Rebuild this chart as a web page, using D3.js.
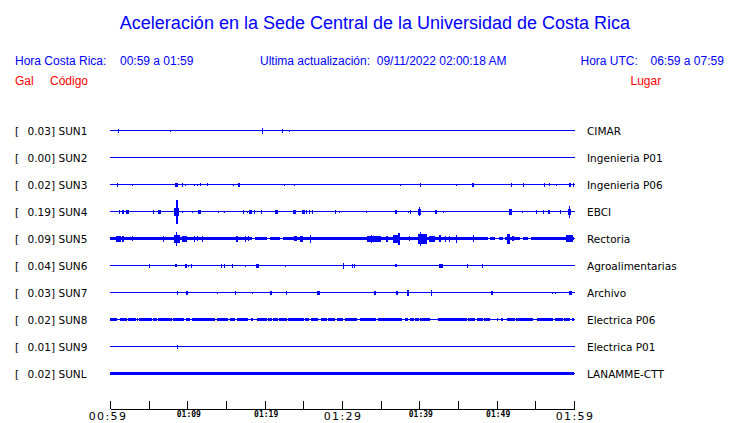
<!DOCTYPE html>
<html>
<head>
<meta charset="utf-8">
<script src="https://cdn.jsdelivr.net/npm/d3@7"></script>
<style>
  html, body { margin: 0; padding: 0; background: #fff; }
  svg { display: block; }
</style>
</head>
<body>
<svg id="chart" width="740" height="423"></svg>
<script>
// ---------------- data ----------------
const stations = ["SUN1","SUN2","SUN3","SUN4","SUN5","SUN6","SUN7","SUN8","SUN9","SUNL"];
const peaks = ["0.03","0.00","0.02","0.19","0.09","0.04","0.03","0.02","0.01","0.02"];
const places = ["CIMAR","Ingenieria P01","Ingenieria P06","EBCI","Rectoria","Agroalimentarias","Archivo","Electrica P06","Electrica P01","LANAMME-CTT"];
// background noise half-amplitude of each trace (relative units)
const baseNoise = [0.5,0.5,0.5,0.5,1.5,0.5,0.5,1.5,0.5,1.5];

// events: [start minute, end minute, half amplitude]  (minutes after 00:59)
const sun1Events = [[1.07,1.2,2],[7.8,7.93,1],[19.7,19.83,3],[22.3,22.43,2],[23.2,23.33,1]];
const sun2Events = [];
const sun3Events = [[0.86,0.99,2],[2.9,3.03,1],[8.4,8.8,2],[9.3,9.43,2],[9.7,9.83,1],[10.9,11.03,1],[11.3,11.43,1],[11.7,11.83,1.5],[12.6,12.73,1.5],[15.9,16.03,1],[16.5,16.63,2],[16.7,16.83,2],[22.5,22.63,1],[23.8,23.93,1],[37.5,37.63,1],[40.1,40.23,2],[44.7,44.83,1],[46.8,46.93,2],[47.0,47.13,2],[51.8,51.93,2],[53.4,53.53,2],[56.1,56.23,2],[56.8,56.93,1.5],[57.7,57.83,1],[59.3,59.6,2],[59.85,59.98,2]];
const sun4Events = [[1.2,1.33,2],[1.5,1.75,2],[2.1,2.4,2],[5.5,5.63,2],[6.2,6.33,2],[6.4,6.6,2],[8.3,8.95,4],[8.55,8.75,12],[9.35,9.48,1],[10.6,10.73,1],[11.4,11.75,2],[14.0,14.13,1],[14.8,14.93,1],[17.2,17.33,2],[17.7,17.83,1],[18.0,18.3,2],[18.6,18.73,2],[19.5,19.63,2],[21.4,21.7,2],[23.7,24.0,2],[24.8,25.2,2],[25.4,25.53,2],[25.7,25.83,2],[26.1,26.23,2],[29.1,29.23,2],[29.6,29.73,1],[33.1,33.23,1],[36.8,37.1,2],[38.5,38.63,1],[38.8,38.93,2],[39.8,40.2,3],[39.95,40.1,4.5],[42.0,42.13,2],[42.2,42.33,2],[43.0,43.13,1],[51.6,52.0,3],[53.3,53.43,1],[55.1,55.23,2],[56.0,56.13,2],[56.7,56.95,2],[58.2,58.33,2],[59.2,59.6,3],[59.35,59.5,6]];
const sun5Events = [[0.8,1.45,3],[1.6,1.8,3],[2.9,3.03,2.5],[6.8,6.93,3],[8.3,9.1,4],[8.55,8.7,7],[9.3,9.9,3],[10.8,10.93,3],[11.2,11.33,2.5],[11.9,12.03,3],[16.3,16.55,3],[17.4,17.53,3],[17.8,17.93,2.5],[23.8,24.2,2.5],[24.6,24.9,3],[25.8,26.0,4],[33.2,35.1,3],[33.7,33.85,4],[35.7,36.0,3],[36.6,37.5,4],[37.3,37.45,6],[38.7,38.83,2.5],[39.8,41.0,5],[40.1,40.25,7],[41.2,42.0,3],[42.6,42.8,3.5],[43.3,43.43,3],[43.9,44.03,3],[44.7,44.83,4],[46.9,47.03,3.5],[51.3,51.7,5],[52.0,52.2,2.5],[59.0,59.9,3.5]];
const sun6Events = [[5.1,5.23,2],[8.4,8.7,1.5],[9.7,10.0,2],[10.1,10.23,1],[10.5,10.63,2],[14.3,14.43,2],[14.8,14.93,2],[15.8,15.93,2],[17.4,17.53,1],[18.9,19.25,2],[22.6,22.73,1],[30.15,30.28,3],[31.3,31.43,2],[31.6,31.73,2],[36.8,37.05,1.5],[42.6,43.0,2],[46.1,46.23,2],[48.1,48.23,2]];
const sun7Events = [[8.6,8.73,2],[9.8,10.1,2],[13.9,14.03,1],[16.1,16.35,2],[18.3,18.43,1],[20.7,20.95,2],[22.7,22.95,2],[26.8,27.1,2],[34.2,34.45,2],[37.0,37.25,2],[38.4,38.65,3],[41.55,41.68,3],[49.3,49.55,2],[57.2,57.33,1],[57.6,57.73,1],[59.35,59.8,2]];
const sun8Events = [];
const sun9Events = [[8.6,8.73,2]];
const sunLEvents = [];
const allEvents = [sun1Events,sun2Events,sun3Events,sun4Events,sun5Events,sun6Events,sun7Events,sun8Events,sun9Events,sunLEvents];

// quiet stretches where the noise band drops to the bare line: [start, end] minutes
const sun5Quiet = [[18.3,18.75],[20.3,20.7],[22.0,22.4],[48.9,49.2],[49.8,50.3],[50.8,51.1],[53.0,53.4],[54.1,54.4]];
const sun8Quiet = [[0.87,1.29],[2.16,2.37],[3.32,3.45],[3.66,3.79],[5.39,5.6],[6.04,6.25],[7.98,8.19],[9.61,9.79],[10.34,10.64],[13.58,13.8],[15.3,15.52],[16.16,16.38],[17.88,18.19],[18.53,18.97],[20.26,20.47],[20.91,21.12],[21.68,21.85],[22.85,23.06],[25.09,25.22],[25.73,25.99],[26.94,27.29],[28.02,28.23],[29.1,29.31],[30.17,30.39],[31.9,32.33],[34.4,34.66],[37.72,38.15],[38.59,38.79],[39.31,39.48],[39.96,40.09],[41.38,42.45],[46.13,46.34],[47.2,47.42],[48.2,48.36],[49.14,50.0],[50.21,50.56],[50.86,51.3],[52.37,52.5],[54.74,55.22],[57.33,57.55],[58.54,58.71],[59.49,59.7]];
const allQuiet = [[],[],[],[],sun5Quiet,[],[],sun8Quiet,[],[]];

const tickMinutes = [0,5,10,15,20,25,30,35,40,45,50,55,60];
const bigLabelMinutes = [0,30,60];
const bigLabels = ["00:59","01:29","01:59"];
const smallLabelMinutes = [10,20,40,50];
const smallLabels = ["01:09","01:19","01:39","01:49"];

const title = "Aceleración en la Sede Central de la Universidad de Costa Rica";
const horaCR = "00:59 a 01:59";
const update = "Ultima actualización:  09/11/2022 02:00:18 AM";
const horaUTC = "06:59 a 07:59";

// ---------------- drawing ----------------
const svg = d3.select("#chart");
const BLUE = "#0000ff", RED = "#ff0000";
const SANS = "'Liberation Sans', Arial, sans-serif";
const DJ = "'DejaVu Sans', sans-serif";

const x = d3.scaleLinear().domain([0,60]).range([110,574]);
const y = d3.scalePoint().domain(stations).range([130.5,373.5]);
const amp = d3.scaleLinear().domain([0,12]).range([0,12]);

// header
svg.append("text").attr("x",375).attr("y",29).attr("text-anchor","middle")
  .attr("font-family",SANS).attr("font-size",18).attr("fill",BLUE).text(title);
const hdr = [[15,"Hora Costa Rica:"],[120,horaCR],[260,update],[580.5,"Hora UTC:"],[650.5,horaUTC]];
svg.selectAll("text.hdr").data(hdr).join("text").attr("class","hdr")
  .attr("x",d=>d[0]).attr("y",65).attr("font-family",SANS).attr("font-size",12)
  .attr("fill",BLUE).style("white-space","pre").text(d=>d[1]);
const hdr2 = [[15,"Gal"],[50,"Código"],[630.5,"Lugar"]];
svg.selectAll("text.hdr2").data(hdr2).join("text").attr("class","hdr2")
  .attr("x",d=>d[0]).attr("y",85).attr("font-family",SANS).attr("font-size",12)
  .attr("fill",RED).text(d=>d[1]);

// traces
const traces = svg.append("g").attr("shape-rendering","crispEdges");
stations.forEach((s,i)=>{
  const c = y(s);
  const g = traces.append("g");
  g.append("rect").attr("x",x(0)).attr("width",x(60)-x(0)+1)
    .attr("y",c-0.5).attr("height",1).attr("fill",BLUE);
  if (baseNoise[i] > 0.5) {
    const q = allQuiet[i];
    const segs = [];
    let start = 0;
    q.forEach(([a,b])=>{ segs.push([start,a]); start = b; });
    segs.push([start,60]);
    g.selectAll("rect.band").data(segs).join("rect").attr("class","band")
      .attr("x",d=>x(d[0])).attr("width",d=>Math.max(1,x(d[1])-x(d[0])))
      .attr("y",c-amp(baseNoise[i])).attr("height",2*amp(baseNoise[i]))
      .attr("fill",BLUE);
  }
  g.selectAll("rect.ev").data(allEvents[i]).join("rect").attr("class","ev")
    .attr("x",d=>x(d[0])).attr("width",d=>Math.max(1,x(d[1])-x(d[0])))
    .attr("y",d=>c-amp(d[2])).attr("height",d=>2*amp(d[2]))
    .attr("fill",BLUE);
  svg.append("text").attr("x",15).attr("y",c+4).attr("font-family",DJ).attr("font-size",10.5).text("[");
  svg.append("text").attr("x",55).attr("y",c+4).attr("text-anchor","end").attr("font-family",DJ).attr("font-size",10.5).text(peaks[i]+"]");
  svg.append("text").attr("x",58.5).attr("y",c+4).attr("font-family",DJ).attr("font-size",10.5).text(s);
  svg.append("text").attr("x",587).attr("y",c+4).attr("font-family",DJ).attr("font-size",10.5).text(places[i]);
});

// time axis
const axis = d3.axisBottom(x).tickValues(tickMinutes).tickSize(-8).tickSizeOuter(0).tickFormat("");
const ax = svg.append("g").attr("transform","translate(0,409)").call(axis);
ax.select(".domain").attr("stroke","#000").attr("shape-rendering","crispEdges");
ax.selectAll(".tick line").attr("stroke","#000").attr("shape-rendering","crispEdges");

svg.selectAll("text.big").data(bigLabelMinutes).join("text").attr("class","big")
  .attr("x",(d,i)=>x(d)+ (i===0?-2:1)).attr("y",420).attr("text-anchor","middle")
  .attr("font-family",DJ).attr("font-size",11).attr("letter-spacing",1.4)
  .attr("fill","#000").text((d,i)=>bigLabels[i]);
svg.selectAll("text.small").data(smallLabelMinutes).join("text").attr("class","small")
  .attr("x",d=>x(d)+1.5).attr("y",417).attr("text-anchor","middle")
  .attr("font-family","'DejaVu Sans Mono', monospace").attr("font-size",8).attr("font-weight","bold")
  .attr("fill","#000").text((d,i)=>smallLabels[i]);
</script>
</body>
</html>
